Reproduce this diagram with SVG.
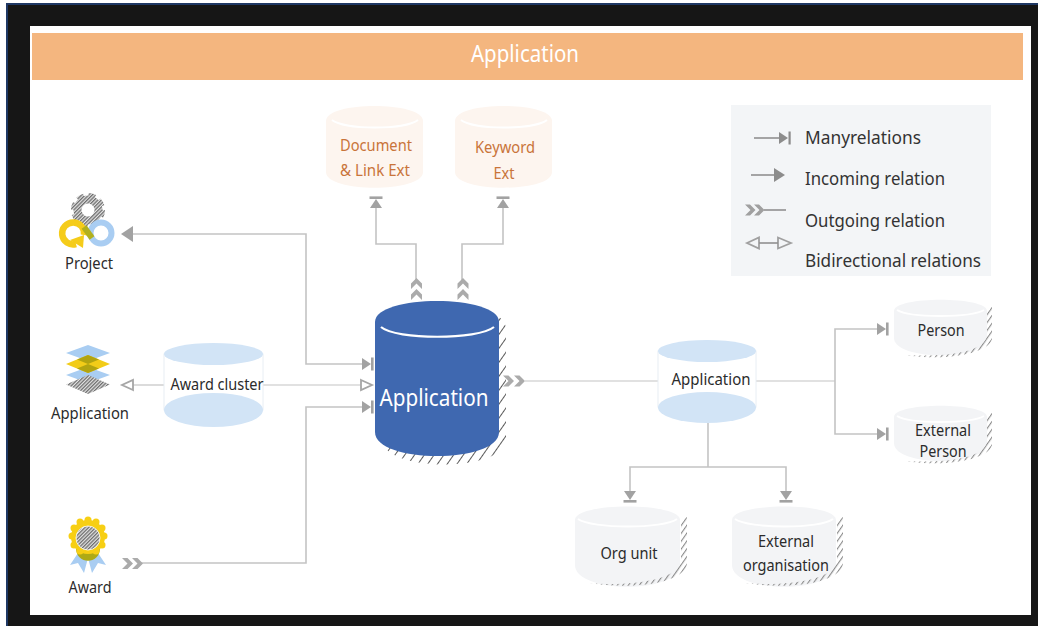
<svg xmlns="http://www.w3.org/2000/svg" width="1038" height="626" viewBox="0 0 1038 626">
<style>
text{font-family:"Noto Sans","Open Sans","Liberation Sans",sans-serif;font-size:17px;fill:#2b2b2b;text-anchor:middle}
.o{fill:#c9743a}
.w{fill:#fff;font-size:23px}
.l{text-anchor:start;font-size:18px;fill:#333}
.c{fill:none;stroke:#c4c4c4;stroke-width:1.6}
.thin{stroke-width:1.2}
.lg{fill:none;stroke:#909090;stroke-width:1.6}
.h{fill:url(#hatch)}
.h2{fill:url(#hatch2)}
.soft{fill:#f3f4f6}
.arc{fill:none;stroke:#fff;stroke-width:2}
.pale{fill:#fdf5ef}
.blue{fill:#d2e4f6}
.body{fill:#fff;stroke:#e8eef4;stroke-width:1}
</style>
<defs>
<pattern id="hatch" width="8" height="8" patternUnits="userSpaceOnUse" patternTransform="rotate(35)">
<rect width="1" height="8" fill="#5a5a5a"/>
</pattern>
<pattern id="hatch2" width="4.500" height="4.500" patternUnits="userSpaceOnUse" patternTransform="rotate(35)">
<rect width="1.100" height="4.500" fill="#8a8a8a"/>
</pattern>
<pattern id="hatch3" width="2.500" height="2.500" patternUnits="userSpaceOnUse" patternTransform="rotate(45)">
<rect width="2.500" height="2.500" fill="#e4e4e4"/>
<rect width="1.300" height="2.500" fill="#6f6f6f"/>
</pattern>
<marker id="many" markerUnits="userSpaceOnUse" markerWidth="16" markerHeight="18" refX="1" refY="9" orient="auto">
<path d="M1,3 L10,9 L1,15Z" fill="#a2a2a2"/><rect x="10" y="2.500" width="2.600" height="13" fill="#a2a2a2"/>
</marker>
<marker id="hollow" markerUnits="userSpaceOnUse" markerWidth="16" markerHeight="16" refX="2" refY="8" orient="auto">
<path d="M2,3 L13,8 L2,13Z" fill="#fff" stroke="#a6a6a6" stroke-width="1.800"/>
</marker>
<path id="crescent-lg" d="M0,4L6,0V46C6,64 -42,74 -92,66C-60,69 0,66 0,42Z" class="h2"/>
<path id="crescent-sm" d="M0,4L5,0V32C5,46 -38,56 -82,49C-52,51 0,49 0,28Z" class="h2"/>
</defs>

<rect width="1038" height="626" fill="#fff"/>
<rect x="6" y="3" width="1032" height="623" fill="#1f3864"/>
<rect x="8" y="5" width="1030" height="621" fill="#161616"/>
<rect x="30" y="26" width="1001" height="589" fill="#fff"/>
<g id="banner">
<rect x="32" y="33" width="991" height="47" fill="#f4b67f"/>
<text class="w" x="525" y="62" textLength="108" lengthAdjust="spacingAndGlyphs">Application</text>
</g>

<g id="connectors">
<path class="c" d="M133,234H306V364H362" marker-end="url(#many)"/>
<path class="c" d="M141,563H306V407H362" marker-end="url(#many)"/>
<path class="c thin" d="M263,385H361" marker-end="url(#hollow)"/>
<path class="c thin" d="M164,385H133" marker-end="url(#hollow)"/>
<path class="c thin" d="M525,381H658"/>
<path class="c thin" d="M756,381H835"/>
<path class="c" d="M835,381V329H877" marker-end="url(#many)"/>
<path class="c" d="M835,381V434H877" marker-end="url(#many)"/>
<path class="c" d="M708,423V467"/>
<path class="c" d="M708,467H630V491" marker-end="url(#many)"/>
<path class="c" d="M708,467H786V491" marker-end="url(#many)"/>
<path class="c" d="M416,280V244H376V208" marker-end="url(#many)"/>
<path class="c" d="M462,280V244H503V208" marker-end="url(#many)"/>
<path d="M121,234L133,226V242Z" fill="#a2a2a2"/>
<g fill="#ababab">
<path d="M122,558h5.500l5.500,5.500l-5.500,5.500h-5.500l5.500,-5.500z"/><path d="M132,558h5.500l5.500,5.500l-5.500,5.500h-5.500l5.500,-5.500z"/>
<path d="M503,375.500h5.500l5.500,5.500l-5.500,5.500h-5.500l5.500,-5.500z"/><path d="M514,375.500h5.500l5.500,5.500l-5.500,5.500h-5.500l5.500,-5.500z"/>
<path d="M411,289v-5.500l5.500,-5.500l5.500,5.500v5.500l-5.500,-5.500z"/><path d="M411,300v-5.500l5.500,-5.500l5.500,5.500v5.500l-5.500,-5.500z"/>
<path d="M457.500,289v-5.500l5.500,-5.500l5.500,5.500v5.500l-5.500,-5.500z"/><path d="M457.500,300v-5.500l5.500,-5.500l5.500,5.500v5.500l-5.500,-5.500z"/>
</g>
</g>

<g id="doc-ext">
<path class="pale" d="M326,121C326,101 423,101 423,121V172C423,193 326,193 326,172Z"/>
<path class="arc" d="M332,120C345,130 405,130 418,120"/>
<text class="o" x="376" y="151" textLength="72" lengthAdjust="spacingAndGlyphs">Document</text>
<text class="o" x="375" y="176" textLength="70" lengthAdjust="spacingAndGlyphs">&amp; Link Ext</text>
</g>
<g id="keyword-ext">
<path class="pale" d="M455,121C455,101 552,101 552,121V172C552,193 455,193 455,172Z"/>
<path class="arc" d="M461,120C474,130 534,130 547,120"/>
<text class="o" x="505" y="153" textLength="60" lengthAdjust="spacingAndGlyphs">Keyword</text>
<text class="o" x="504" y="179" textLength="21" lengthAdjust="spacingAndGlyphs">Ext</text>
</g>

<g id="legend">
<rect x="731" y="105" width="260" height="171" fill="#f3f5f7"/>
<path class="lg" d="M754,138H781"/>
<path d="M779,132L788,138L779,144Z" fill="#8c8c8c"/><rect x="788.500" y="131.500" width="2.200" height="13" fill="#8c8c8c"/>
<path class="lg" d="M751,175H775"/>
<path d="M774,168L785,175L774,182Z" fill="#8c8c8c"/>
<path class="lg thin" d="M764,210H786"/>
<g fill="#a0a0a0"><path d="M745,204.500h5l5.500,5.500l-5.500,5.500h-5l5.500,-5.500z"/><path d="M754,204.500h5l5.500,5.500l-5.500,5.500h-5l5.500,-5.500z"/></g>
<path d="M747,243L759,237.500V248.500Z M791,243L778,237.500V248.500Z" fill="#f3f5f7" stroke="#a0a0a0" stroke-width="1.800"/>
<path class="lg thin" d="M759,243H778"/>
<text class="l" x="805" y="144" textLength="116" lengthAdjust="spacingAndGlyphs">Manyrelations</text>
<text class="l" x="805" y="185" textLength="140" lengthAdjust="spacingAndGlyphs">Incoming relation</text>
<text class="l" x="805" y="227" textLength="140" lengthAdjust="spacingAndGlyphs">Outgoing relation</text>
<text class="l" x="805" y="267" textLength="176" lengthAdjust="spacingAndGlyphs">Bidirectional relations</text>
</g>

<g id="project">
<circle cx="88" cy="210" r="14" fill="none" stroke="url(#hatch3)" stroke-width="6" stroke-dasharray="6.500 4.500"/>
<circle cx="88" cy="210" r="10.500" fill="none" stroke="url(#hatch3)" stroke-width="8"/>
<circle cx="101" cy="233" r="10.500" fill="none" stroke="#a9cdf2" stroke-width="6"/>
<path d="M84,235A11,11 0 1 0 76,244" fill="none" stroke="#f5cc1a" stroke-width="6.500"/>
<path d="M70,240L84,235L83,248Z" fill="#f5cc1a"/>
<path d="M84,227L92,238" fill="none" stroke="#b2b01e" stroke-width="6"/>
<text x="89" y="269" textLength="48" lengthAdjust="spacingAndGlyphs">Project</text>
</g>

<g id="application-icon">
<path d="M88,345L110,353L88,361L66,353Z" fill="#a9cdf2"/>
<path d="M88,367L110,375L88,383L66,375Z" fill="#a9cdf2"/>
<path d="M88,355L110,364L88,373L66,364Z" fill="#f2cc18"/>
<path d="M88,355L99,359.500L88,364L77,359.500Z M88,364L99,368.500L88,373L77,368.500Z" fill="#b2a410"/>
<path d="M88,375L110,384.500L88,394L66,384.500Z" fill="url(#hatch3)"/>
<text x="90" y="419" textLength="78" lengthAdjust="spacingAndGlyphs">Application</text>
</g>

<g id="award-cluster">
<rect class="body" x="164" y="354" width="99" height="56"/>
<ellipse class="blue" cx="213.500" cy="354" rx="49.500" ry="11"/>
<ellipse class="blue" cx="213.500" cy="410" rx="49.500" ry="17"/>
<text x="217" y="390" textLength="93" lengthAdjust="spacingAndGlyphs">Award cluster</text>
</g>

<g id="award">
<path d="M78,553L70,565L78,563L84,573L88,558Z" fill="#a9cdf2"/>
<path d="M98,553L106,565L98,563L92,573L88,558Z" fill="#a9cdf2"/>
<path d="M76,548C76,565 100,565 100,548Z" fill="#aeaa14"/>
<g fill="#f7cf14">
<circle cx="88" cy="537" r="17"/>
<circle cx="88" cy="520" r="3.500"/><circle cx="96" cy="522" r="3.500"/><circle cx="102" cy="528" r="3.500"/><circle cx="104" cy="536" r="3.500"/><circle cx="102" cy="545" r="3.500"/><circle cx="96" cy="551" r="3.500"/><circle cx="80" cy="551" r="3.500"/><circle cx="74" cy="545" r="3.500"/><circle cx="72" cy="536" r="3.500"/><circle cx="74" cy="528" r="3.500"/><circle cx="80" cy="522" r="3.500"/>
</g>
<circle cx="88" cy="538" r="12" fill="url(#hatch3)" stroke="#fff" stroke-width=".8"/>
<text x="90" y="593" textLength="43" lengthAdjust="spacingAndGlyphs">Award</text>
</g>

<g id="application-main">
<path class="h" d="M382,329C382,296 506,296 506,329V439C506,473 382,473 382,439Z"/>
<path d="M375,322C375,294 499,294 499,322V432C499,464 375,464 375,432Z" fill="#3f68b0"/>
<path d="M381,327C396,340 478,340 494,327" fill="none" stroke="#fff" stroke-width="2.200"/>
<text class="w" x="434" y="406" textLength="109" lengthAdjust="spacingAndGlyphs">Application</text>
</g>

<g id="application-right">
<rect class="body" x="658" y="351" width="98" height="56"/>
<ellipse class="blue" cx="707" cy="351" rx="49" ry="11"/>
<ellipse class="blue" cx="707" cy="407.500" rx="49" ry="15.500"/>
<text x="711" y="385" textLength="79" lengthAdjust="spacingAndGlyphs">Application</text>
</g>

<g id="person">
<path class="soft" d="M894,311C894,296 987,296 987,311V338C987,361 894,361 894,338Z"/>
<path class="arc" d="M897,310C910,318 970,318 984,310"/>
<use href="#crescent-sm" x="987" y="306"/>
<text x="941" y="336" textLength="47" lengthAdjust="spacingAndGlyphs">Person</text>
</g>
<g id="external-person">
<path class="soft" d="M894,417C894,402 987,402 987,417V443C987,467 894,467 894,443Z"/>
<path class="arc" d="M897,416C910,424 970,424 984,416"/>
<use href="#crescent-sm" x="987" y="412"/>
<text x="943" y="436" textLength="56" lengthAdjust="spacingAndGlyphs">External</text>
<text x="943" y="457" textLength="47" lengthAdjust="spacingAndGlyphs">Person</text>
</g>
<g id="org-unit">
<path class="soft" d="M575,520C575,502 680,502 680,520V565C680,594 575,594 575,565Z"/>
<path class="arc" d="M578,519C592,529 664,529 677,519"/>
<use href="#crescent-lg" x="681" y="517"/>
<text x="629" y="559" textLength="57" lengthAdjust="spacingAndGlyphs">Org unit</text>
</g>
<g id="external-org">
<path class="soft" d="M732,520C732,502 836,502 836,520V565C836,594 732,594 732,565Z"/>
<path class="arc" d="M735,519C749,529 821,529 833,519"/>
<use href="#crescent-lg" x="837" y="517"/>
<text x="786" y="547" textLength="56" lengthAdjust="spacingAndGlyphs">External</text>
<text x="786" y="571" textLength="86" lengthAdjust="spacingAndGlyphs">organisation</text>
</g>
</svg>
